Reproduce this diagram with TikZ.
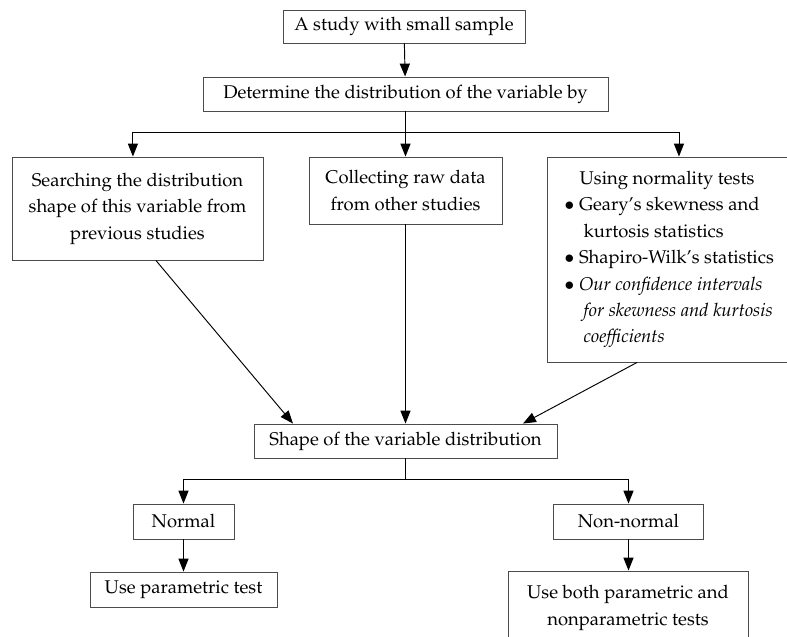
\documentclass[tikz,border=0pt]{standalone}
\usepackage[T1]{fontenc}
\usepackage{mathpazo}
\usetikzlibrary{arrows.meta}
\newcommand{\px}{0.526pt}
\newcommand{\bline}[1]{\makebox[108pt][l]{#1}}

\begin{document}
\begin{tikzpicture}[
  x=\px, y=-\px,
  every node/.style={draw=black!70, line width=0.5pt, font=\fontsize{9.7}{13.9}\selectfont, align=center, inner sep=0pt},
  conn/.style={draw, line width=0.5pt, -{Triangle[length=6.8pt, width=5.3pt]}},
  link/.style={draw, line width=0.5pt}
]
  \useasboundingbox (0,0) rectangle (787,636);

  \node[minimum width=242*\px, minimum height=33*\px] (study) at (404,26.5) {A study with small sample};
  \node[minimum width=405*\px, minimum height=34*\px] (determine) at (405.5,94) {Determine the distribution of the variable by};

  \node[minimum width=251*\px, minimum height=103*\px] (search) at (137.5,208.5)
    {Searching the distribution\\ shape of this variable from\\ previous studies};
  \node[minimum width=193*\px, minimum height=67*\px] (collect) at (405.5,190.5)
    {Collecting raw data\\ from other studies};
  \node[minimum width=240*\px, minimum height=205*\px] (tests) at (667,259.5)
    {Using normality tests\\
     \bline{$\bullet$ Geary's skewness and}\\
     \bline{\hspace*{1.05em}kurtosis statistics}\\
     \bline{$\bullet$ Shapiro-Wilk's statistics}\\
     \bline{$\bullet$ \textit{Our confidence intervals}}\\
     \bline{\hspace*{1.05em}\textit{for skewness and kurtosis}}\\
     \bline{\hspace*{1.05em}\textit{coefficients}}};

  \node[minimum width=303*\px, minimum height=34*\px] (shape) at (405.5,441) {Shape of the variable distribution};

  \node[minimum width=101*\px, minimum height=35*\px] (normal) at (183.5,521.5) {Normal};
  \node[minimum width=150*\px, minimum height=35*\px] (nonnormal) at (628.5,521.5) {Non-normal};
  \node[minimum width=187*\px, minimum height=35*\px] (usepar) at (183.5,589.5) {Use parametric test};
  \node[minimum width=240*\px, minimum height=74*\px] (useboth) at (628,608)
    {Use both parametric and\\ nonparametric tests};

  % branches
  \coordinate (split) at (405.5,132);
  \coordinate (split2) at (405.5,479);

  \draw[conn] (study) -- (determine);
  \draw[link] (determine) -- (split);
  \draw[conn] (split) -| ([xshift=-2.4pt]search.north);
  \draw[conn] (split) -- (collect);
  \draw[conn] (split) -| ([xshift=6.3pt]tests.north);

  \draw[conn] ([xshift=9.7pt]search.south) -- ([xshift=-59.2pt]shape.north);
  \draw[conn] (collect) -- (shape);
  \draw[conn] ([xshift=-15.8pt]tests.south) -- ([xshift=61.8pt]shape.north);

  \draw[link] (shape) -- (split2);
  \draw[conn] (split2) -| (normal);
  \draw[conn] (split2) -| (nonnormal);
  \draw[conn] (normal) -- (usepar);
  \draw[conn] (nonnormal) -- (nonnormal |- useboth.north);
\end{tikzpicture}
\end{document}
